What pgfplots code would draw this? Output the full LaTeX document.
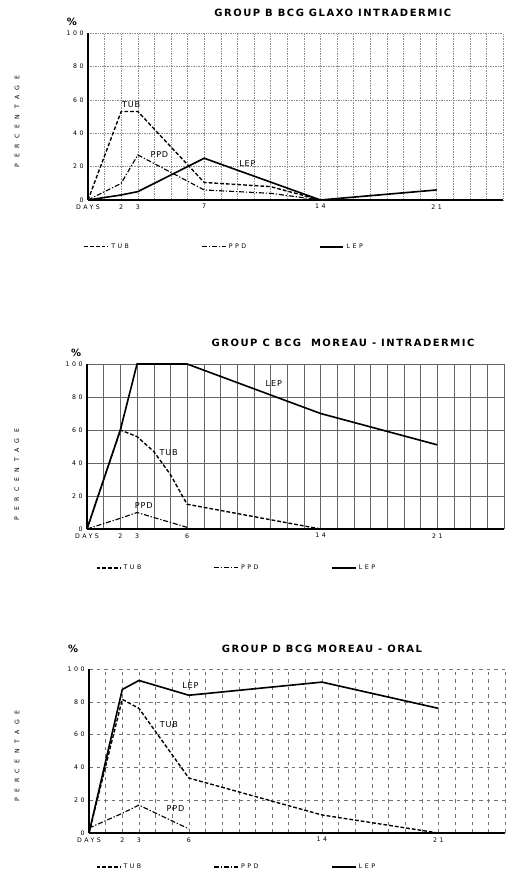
\documentclass[border=0pt]{standalone}
\usepackage{fontspec}
\setmainfont{DejaVu Sans}
\usepackage{pgfplots}
\pgfplotsset{compat=1.18}

\newcommand\smallsz{\fontsize{5}{6}\selectfont}
\newcommand\spaced{\addfontfeature{LetterSpace=40}}

\tikzset{
  tub/.style={black, line width=1.1pt, dash pattern=on 3pt off 1.6pt},
  ppd/.style={black, line width=0.9pt, dash pattern=on 4pt off 1.5pt on 1pt off 1.5pt},
  lep/.style={black, line width=1.3pt},
  lbl/.style={font=\fontsize{6.5}{7}\selectfont\addfontfeature{LetterSpace=10}},
}

\pgfplotsset{
  grp/.style={
    scale only axis,
    xmin=0, xmax=25, ymin=0, ymax=100,
    axis x line=bottom, axis y line=left,
    axis line style={line width=1.4pt, -},
    minor xtick={0,1,...,25},
    xminorgrids, ymajorgrids, xmajorgrids=false,
    ytick={0,20,...,100},
    yticklabels={0,20,40,60,80,100},
    major tick length=0pt, minor tick length=0pt,
    tick label style={font=\smallsz\spaced},
    /pgf/number format/assume math mode=true,
    grid style={black!60, line width=0.35pt},
    minor grid style={black!60, line width=0.35pt},
    clip=false,
    legend columns=3,
    legend cell align=left,
    legend style={draw=none, fill=none, anchor=west,
      font=\smallsz\spaced,
      /tikz/every even column/.append style={column sep=56pt}},
    legend image code/.code={\draw[##1] (0pt,0pt) -- (19pt,0pt);},
    title style={font=\bfseries\fontsize{8}{9}\selectfont\addfontfeature{LetterSpace=15}},
    ylabel={PERCENTAGE},
    ylabel style={font=\smallsz\addfontfeature{LetterSpace=90}, anchor=center},
  },
}

\begin{document}
\begin{tikzpicture}
\path[use as bounding box] (0pt,0pt) rectangle (408.8pt,697.6pt);

% ---------- Group B
\begin{axis}[grp, at={(70.4pt,537.6pt)}, anchor=south west,
  width=332pt, height=133.6pt,
  xtick={0,2,3,7,14,21}, xticklabels={DAYS,2,3,7,14,21},
  grid style={black!45, line width=0.35pt, densely dotted},
  minor grid style={black!45, line width=0.35pt, densely dotted},
  title={GROUP B\enspace BCG\enspace GLAXO INTRADERMIC},
  title style={at={(axis description cs:0.59,1.075)}, anchor=center},
  ylabel style={at={(axis description cs:-0.171,0.47)}},
  legend style={at={(axis description cs:-0.02,-0.28)}},
]
\addplot[tub] coordinates {(0,0) (2,53) (3,53) (7,10.5) (11,8) (14,0)};
\addplot[ppd] coordinates {(0,0) (2,10) (3,27) (7,6) (11,4) (14,0)};
\addplot[lep] coordinates {(0,0) (2,3) (3,5) (7,25) (14,0) (21,6)};
\legend{TUB,PPD,LEP}
\node[lbl] at (axis cs:2.6,57) {TUB};
\node[lbl] at (axis cs:4.3,27) {PPD};
\node[lbl] at (axis cs:9.6,22) {LEP};
\node[font=\bfseries\fontsize{8}{9}\selectfont] at (axis description cs:-0.039,1.066) {\%};
\end{axis}

% ---------- Group C
\begin{axis}[grp, at={(69.6pt,274.4pt)}, anchor=south west,
  width=333.6pt, height=132pt,
  xtick={0,2,3,6,14,21}, xticklabels={DAYS,2,3,6,14,21},
  title={GROUP C\enspace BCG\enspace\ MOREAU - INTRADERMIC},
  title style={at={(axis description cs:0.614,1.085)}, anchor=center},
  ylabel style={at={(axis description cs:-0.168,0.33)}},
  legend style={at={(axis description cs:0.012,-0.236)}},
]
\addplot[tub] coordinates {(0,0) (2,60) (3,56) (4,47) (5,33) (6,15) (14,0)};
\addplot[ppd] coordinates {(0,0) (2,6.5) (3,10) (6,1) };
\addplot[lep] coordinates {(0,0) (2,60) (3,100) (6,100) (14,70) (21,51)};
\legend{TUB,PPD,LEP}
\node[lbl] at (axis cs:4.9,46) {TUB};
\node[lbl] at (axis cs:3.4,14) {PPD};
\node[lbl] at (axis cs:11.2,88) {LEP};
\node[font=\bfseries\fontsize{8}{9}\selectfont] at (axis description cs:-0.026,1.07) {\%};
\end{axis}

% ---------- Group D
\begin{axis}[grp, at={(71.2pt,31.2pt)}, anchor=south west,
  width=332.8pt, height=131.2pt,
  xtick={0,2,3,6,14,21}, xticklabels={DAYS,2,3,6,14,21},
  grid style={black!55, line width=0.35pt, dashed},
  minor grid style={black!55, line width=0.35pt, dashed},
  title={GROUP D\enspace BCG\enspace MOREAU - ORAL},
  title style={at={(axis description cs:0.56,1.075)}, anchor=center},
  ylabel style={at={(axis description cs:-0.173,0.47)}},
  legend style={at={(axis description cs:0.007,-0.207)}},
]
\addplot[tub] coordinates {(0,0) (2,81.5) (3,76) (6,33.5) (14,11) (21,0)};
\addplot[ppd] coordinates {(0,3) (2,12) (3,17) (6,2.5)};
\addplot[lep] coordinates {(0,0) (2,87.5) (3,93) (6,84) (14,92) (21,76)};
\legend{TUB,PPD,LEP}
\node[lbl] at (axis cs:4.8,66) {TUB};
\node[lbl] at (axis cs:5.2,15) {PPD};
\node[lbl] at (axis cs:6.1,90) {LEP};
\node[font=\bfseries\fontsize{8}{9}\selectfont] at (axis description cs:-0.038,1.12) {\%};
\end{axis}
\end{tikzpicture}
\end{document}
